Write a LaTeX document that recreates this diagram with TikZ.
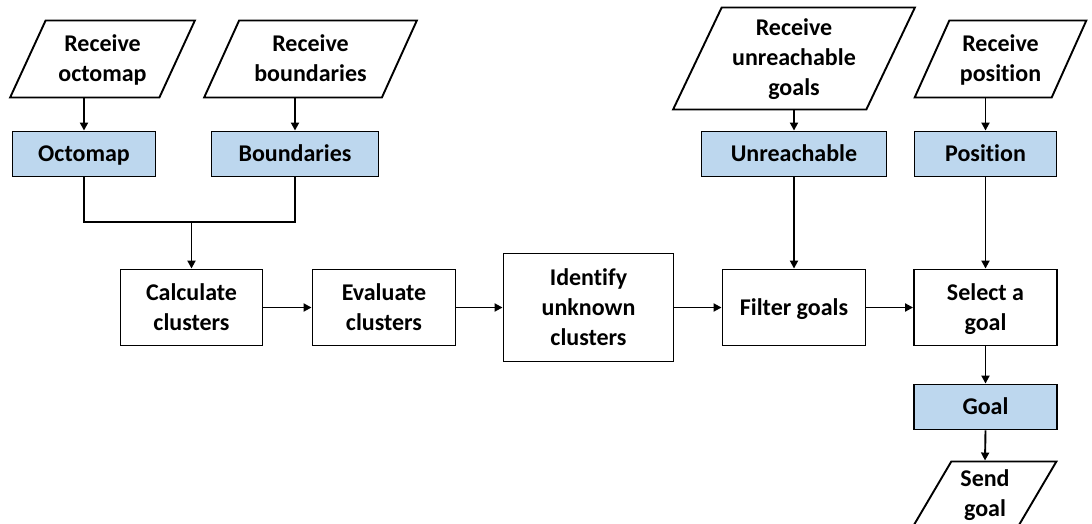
\documentclass[tikz,border=0pt]{standalone}
\usepackage{fontspec}
\setmainfont{Carlito}[Ligatures=NoCommon]
\usetikzlibrary{arrows.meta,shapes.geometric}
\definecolor{datablue}{RGB}{189,215,238}
% invisible strut so every text line has the same height and depth
\newcommand{\boxstrut}{\rule[-7pt]{0pt}{29pt}}
\begin{document}
\begin{tikzpicture}[x=1pt,y=-1pt,
  every node/.style={font=\bfseries\fontsize{24}{30}\selectfont, align=center, inner sep=0pt, line width=1.9pt},
  process/.style={draw=black, fill=white, rectangle, minimum height=76pt},
  data/.style={draw=black, fill=datablue, rectangle, minimum height=45pt},
  io/.style={draw=black, fill=white, trapezium, trapezium left angle=65, trapezium right angle=115,
             trapezium stretches=true, minimum height=77pt},
  flow/.style={line width=1.9pt, -{Triangle[length=8pt,width=8pt]}},
  link/.style={line width=1.9pt}]
\clip (0,0) rectangle (1092,524);

% inputs
\node[io, minimum width=185pt] (ro) at (102.5,59) {\boxstrut Receive\\octomap\boxstrut};
\node[io, minimum width=213pt] (rb) at (310.5,59) {\boxstrut Receive\\boundaries\boxstrut};
\node[io, minimum width=242pt, minimum height=102pt] (ru) at (794,58.5) {\boxstrut Receive\\unreachable\\goals\boxstrut};
\node[io, minimum width=172pt] (rp) at (1000.5,59) {\boxstrut Receive\\position\boxstrut};

% data stores
\node[data, minimum width=143pt] (oct) at (84,154) {\boxstrut Octomap};
\node[data, minimum width=167pt] (bnd) at (295,154) {\boxstrut Boundaries};
\node[data, minimum width=185pt] (unr) at (794,154) {\boxstrut Unreachable};
\node[data, minimum width=142pt] (pos) at (985.5,154) {\boxstrut Position};

% processing chain
\node[process, minimum width=142pt] (calc) at (191.5,307.5) {\boxstrut Calculate\\clusters\boxstrut};
\node[process, minimum width=143pt] (eval) at (384,307.5) {\boxstrut Evaluate\\clusters\boxstrut};
\node[process, minimum width=170pt, minimum height=108pt] (ident) at (588.5,307.5) {\boxstrut Identify\\unknown\\clusters\boxstrut};
\node[process, minimum width=143pt] (filt) at (794,307.5) {\boxstrut Filter goals};
\node[process, minimum width=143pt] (sel) at (985.5,307.5) {\boxstrut Select a\\goal\boxstrut};

% output
\node[data, minimum width=143pt] (goal) at (985.5,407) {\boxstrut Goal};
\node[io, minimum width=143pt, minimum height=64pt] (send) at (985,493.5) {\boxstrut Send\\goal\boxstrut};

% connectors
\coordinate (jn) at (191.5,222);
\draw[flow] (oct.north |- ro.south) -- (oct.north);
\draw[flow] (bnd.north |- rb.south) -- (bnd.north);
\draw[flow] (unr.north |- ru.south) -- (unr.north);
\draw[flow] (pos.north |- rp.south) -- (pos.north);
\draw[link] (oct.south) |- (jn) -| (bnd.south);
\draw[flow] (jn) -- (calc.north);
\draw[flow] (calc) -- (eval);
\draw[flow] (eval) -- (ident);
\draw[flow] (ident) -- (filt);
\draw[flow] (filt) -- (sel);
\draw[flow] (unr.south) -- (filt.north);
\draw[flow] (pos.south) -- (sel.north);
\draw[flow] (sel.south) -- (goal.north);
\draw[flow] (goal.south) -- (send.north);
\end{tikzpicture}
\end{document}
